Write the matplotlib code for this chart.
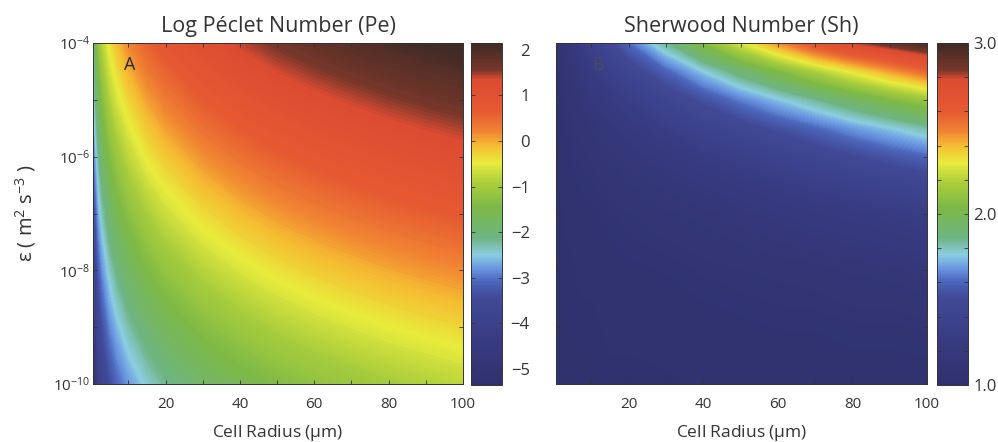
import numpy as np
import matplotlib
matplotlib.use('Agg')
import matplotlib.pyplot as plt
from matplotlib.colors import LinearSegmentedColormap, Normalize
from matplotlib.cm import ScalarMappable

plt.rcParams['font.family'] = ['Open Sans', 'DejaVu Sans']
plt.rcParams['mathtext.fontset'] = 'custom'
plt.rcParams['mathtext.rm'] = 'Open Sans'
plt.rcParams['mathtext.it'] = 'Open Sans:italic'
plt.rcParams['mathtext.default'] = 'regular'

# ---- data ----
radius_um = [0.5, 1, 2, 3, 5, 7, 10, 15, 20, 30, 40, 50, 60, 70, 80, 90, 100]

# log10 of dissipation rate (m^2 s^-3) for each row
pe_log_eps = [-4, -5, -6, -7, -8, -9, -10]
log_peclet = [
    [-2.40, -1.80, -1.20, -0.85, -0.40, -0.11, 0.20, 0.55, 0.80, 1.15, 1.40, 1.60, 1.76, 1.89, 2.01, 2.11, 2.20],
    [-2.90, -2.30, -1.70, -1.35, -0.90, -0.61, -0.30, 0.05, 0.30, 0.65, 0.90, 1.10, 1.26, 1.39, 1.51, 1.61, 1.70],
    [-3.40, -2.80, -2.20, -1.85, -1.40, -1.11, -0.80, -0.45, -0.20, 0.15, 0.40, 0.60, 0.76, 0.89, 1.01, 1.11, 1.20],
    [-3.90, -3.30, -2.70, -2.35, -1.90, -1.61, -1.30, -0.95, -0.70, -0.35, -0.10, 0.10, 0.26, 0.39, 0.51, 0.61, 0.70],
    [-4.40, -3.80, -3.20, -2.85, -2.40, -2.11, -1.80, -1.45, -1.20, -0.85, -0.60, -0.40, -0.24, -0.11, 0.01, 0.11, 0.20],
    [-4.90, -4.30, -3.70, -3.35, -2.90, -2.61, -2.30, -1.95, -1.70, -1.35, -1.10, -0.90, -0.74, -0.61, -0.49, -0.39, -0.30],
    [-5.40, -4.80, -4.20, -3.85, -3.40, -3.11, -2.80, -2.45, -2.20, -1.85, -1.60, -1.40, -1.24, -1.11, -0.99, -0.89, -0.80],
]

sh_log_eps = [-4, -4.5, -5, -5.5, -6, -6.5, -7, -8, -9, -10]
sherwood = [
    [1.03, 1.06, 1.10, 1.13, 1.20, 1.26, 1.35, 1.48, 1.61, 1.84, 2.06, 2.27, 2.47, 2.66, 2.80, 2.89, 2.97],
    [1.02, 1.04, 1.07, 1.09, 1.14, 1.19, 1.25, 1.34, 1.43, 1.59, 1.75, 1.90, 2.04, 2.18, 2.31, 2.44, 2.56],
    [1.02, 1.03, 1.05, 1.07, 1.10, 1.13, 1.18, 1.24, 1.30, 1.42, 1.53, 1.64, 1.74, 1.84, 1.94, 2.04, 2.13],
    [1.01, 1.02, 1.03, 1.05, 1.07, 1.09, 1.12, 1.17, 1.22, 1.30, 1.38, 1.45, 1.53, 1.60, 1.68, 1.75, 1.82],
    [1.01, 1.01, 1.02, 1.03, 1.05, 1.07, 1.09, 1.12, 1.15, 1.21, 1.27, 1.32, 1.38, 1.43, 1.49, 1.55, 1.60],
    [1.01, 1.01, 1.02, 1.02, 1.04, 1.05, 1.06, 1.09, 1.11, 1.15, 1.19, 1.23, 1.27, 1.31, 1.35, 1.39, 1.43],
    [1.00, 1.01, 1.01, 1.02, 1.03, 1.03, 1.04, 1.06, 1.08, 1.11, 1.13, 1.16, 1.19, 1.22, 1.24, 1.27, 1.30],
    [1.00, 1.00, 1.01, 1.01, 1.01, 1.02, 1.02, 1.03, 1.04, 1.05, 1.07, 1.08, 1.09, 1.10, 1.12, 1.13, 1.15],
    [1.00, 1.00, 1.00, 1.00, 1.01, 1.01, 1.01, 1.02, 1.02, 1.03, 1.03, 1.04, 1.05, 1.05, 1.06, 1.06, 1.07],
    [1.00, 1.00, 1.00, 1.00, 1.00, 1.00, 1.00, 1.01, 1.01, 1.01, 1.02, 1.02, 1.02, 1.03, 1.03, 1.03, 1.03],
]

pe_ticks = [-5, -4, -3, -2, -1, 0, 1, 2]
sh_ticks = [1.0, 1.2, 1.4, 1.6, 1.8, 2.0, 2.2, 2.4, 2.6, 2.8, 3.0]
sh_ticklabels = ['1.0', '', '', '', '', '2.0', '', '', '', '', '3.0']

# scanned jet-like colormap
cmap = LinearSegmentedColormap.from_list('scan', [
    (0.00, '#30326e'), (0.12, '#373a80'), (0.256, '#414a98'), (0.30, '#4b64b9'),
    (0.34, '#6996e1'), (0.38, '#8ccde1'), (0.43, '#6eb482'), (0.52, '#7db946'),
    (0.59, '#aacd3c'), (0.65, '#e8eb3c'), (0.70, '#f5be32'), (0.745, '#f08232'),
    (0.80, '#e65a32'), (0.895, '#dc4b32'), (0.922, '#78372a'), (1.00, '#3e2a26'),
])

dark = '#333333'
W, H = 998, 442
fig = plt.figure(figsize=(W / 100, H / 100), dpi=100)


def box(x0, y0, x1, y1):
    return [x0 / W, 1 - y1 / H, (x1 - x0) / W, (y1 - y0) / H]


ax1 = fig.add_axes(box(93, 43, 463, 384))
cax1 = fig.add_axes(box(471, 43, 502, 385))
ax2 = fig.add_axes(box(556, 43, 927, 384))
cax2 = fig.add_axes(box(937, 43, 968, 385))

pe_norm = Normalize(-5.35, 2.15)
sh_norm = Normalize(1.0, 3.0)

X, Y = np.meshgrid(radius_um, pe_log_eps)
ax1.contourf(X, Y, np.array(log_peclet), levels=np.linspace(-5.45, 2.25, 240),
             cmap=cmap, norm=pe_norm, antialiased=False)
X2, Y2 = np.meshgrid(radius_um, sh_log_eps)
ax2.contourf(X2, Y2, np.array(sherwood), levels=np.linspace(0.99, 3.0, 240),
             cmap=cmap, norm=sh_norm, antialiased=False)

for ax in (ax1, ax2):
    ax.set_xlim(0.5, 100)
    ax.set_ylim(-10, -4)
    ax.set_xticks([20, 40, 60, 80, 100])
    ax.set_xticks([10, 30, 50, 70, 90], minor=True)
    ax.set_yticks([-10, -9, -8, -7, -6, -5, -4])
    ax.tick_params(which='both', direction='in', top=True, right=True, length=3,
                   width=0.6, color=dark, labelcolor=dark, labelsize=11)
    ax.tick_params(axis='x', pad=9)
    ax.tick_params(axis='y', pad=2)
    for s in ax.spines.values():
        s.set_color(dark)
        s.set_linewidth(0.7)
    ax.set_xlabel('Cell Radius ($\\mu$m)', fontsize=12.5, color=dark, labelpad=8)

ax1.set_yticklabels(['$10^{-10}$', '', '$10^{-8}$', '', '$10^{-6}$', '', '$10^{-4}$'])
ax2.set_yticklabels([])
ax1.set_ylabel('ε ( m$^2$ s$^{-3}$ )', fontsize=14.5, color=dark)
ax1.yaxis.set_label_coords(-0.15, 0.5)

ax1.set_title('Log Péclet Number (Pe)', fontsize=15.5, color=dark, pad=8)
ax2.set_title('Sherwood Number (Sh)', fontsize=15.5, color=dark, pad=8)

ax1.text(0.085, 0.935, 'A', transform=ax1.transAxes, fontsize=13, color='#2a2a2a',
         ha='left', va='center')
ax2.text(0.097, 0.935, 'B', transform=ax2.transAxes, fontsize=13, color='#4a4a66',
         ha='left', va='center')

cb1 = fig.colorbar(ScalarMappable(pe_norm, cmap), cax=cax1, ticks=pe_ticks)
cb1.ax.tick_params(direction='in', left=True, right=True, length=3, width=0.6,
                   color=dark, labelcolor=dark, labelsize=12, pad=20)
for t in cb1.ax.get_yticklabels():
    t.set_horizontalalignment('right')

cb2 = fig.colorbar(ScalarMappable(sh_norm, cmap), cax=cax2, ticks=sh_ticks)
cb2.ax.set_yticklabels(sh_ticklabels)
cb2.ax.tick_params(direction='in', left=True, right=True, length=3, width=0.6,
                   color=dark, labelcolor=dark, labelsize=12, pad=4)

for cb in (cb1, cb2):
    cb.outline.set_edgecolor(dark)
    cb.outline.set_linewidth(0.7)

fig.savefig('out.png', dpi=100)
